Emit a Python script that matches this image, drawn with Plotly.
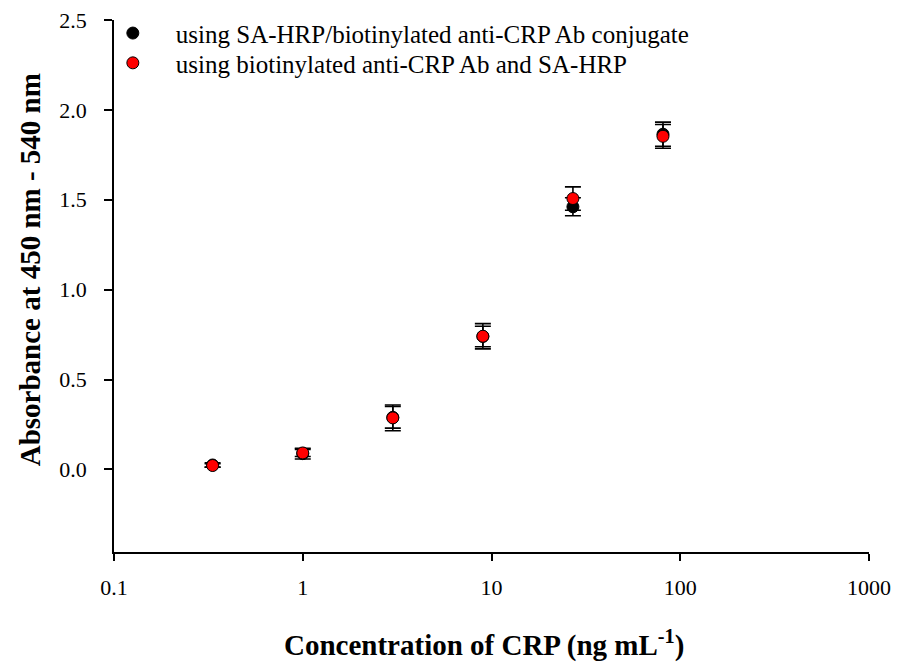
import plotly.graph_objects as go

conc = [0.333, 1, 3, 9, 27, 81]

conj_abs = [0.025, 0.088, 0.29, 0.74, 1.461, 1.865]
conj_err = [0.012, 0.03, 0.06, 0.057, 0.05, 0.067]

sep_abs = [0.022, 0.092, 0.287, 0.741, 1.507, 1.853]
sep_err = [0.01, 0.02, 0.072, 0.07, 0.065, 0.066]

names = ["using SA-HRP/biotinylated anti-CRP Ab conjugate",
         "using biotinylated anti-CRP Ab and SA-HRP"]

FONT = "Liberation Serif"

fig = go.Figure()
fig.add_trace(go.Scatter(
    x=conc, y=conj_abs, mode="markers", name=names[0], legend="legend",
    marker=dict(color="black", size=12, line=dict(color="black", width=1)),
    error_y=dict(type="data", array=conj_err, visible=True, color="black", thickness=1.6, width=8),
))
fig.add_trace(go.Scatter(
    x=conc, y=sep_abs, mode="markers", name=names[1], legend="legend2",
    marker=dict(color="#ff0000", size=12, line=dict(color="black", width=1)),
    error_y=dict(type="data", array=sep_err, visible=True, color="black", thickness=1.6, width=8),
))

leg_common = dict(xanchor="left", yanchor="middle", bgcolor="rgba(0,0,0,0)",
                  font=dict(family=FONT, size=25, color="black"), itemwidth=76)

fig.update_layout(
    width=897, height=669,
    margin=dict(l=114, r=28, t=20, b=117, autoexpand=False),
    plot_bgcolor="white", paper_bgcolor="white",
    font=dict(family=FONT, size=22, color="black"),
    showlegend=True,
    legend=dict(x=-0.032, y=0.975, **leg_common),
    legend2=dict(x=-0.032, y=0.919, **leg_common),
    xaxis=dict(type="log", range=[-1, 3], showline=True, linecolor="black", linewidth=1.5,
               ticks="outside", ticklen=7, tickwidth=1.5, tickcolor="black",
               tickvals=[0.1, 1, 10, 100, 1000], ticktext=["0.1", "1", "10", "100", "1000"],
               showgrid=False, zeroline=False, ticklabelstandoff=8, automargin=False,
               tickfont=dict(family=FONT, size=22)),
    yaxis=dict(range=[-0.459, 2.5], showline=True, linecolor="black", linewidth=1.5,
               ticks="outside", ticklen=8, tickwidth=1.5, tickcolor="black",
               tickvals=[0, 0.5, 1.0, 1.5, 2.0, 2.5],
               ticktext=["0.0", "0.5", "1.0", "1.5", "2.0", "2.5"],
               showgrid=False, zeroline=False, ticklabelstandoff=13, automargin=False,
               tickfont=dict(family=FONT, size=22)),
    annotations=[
        dict(text="<b>Concentration of CRP (ng mL<sup>-1</sup>)</b>", xref="paper", yref="paper",
             x=0.49, y=-0.172, xanchor="center", yanchor="middle", showarrow=False,
             font=dict(family=FONT, size=29)),
        dict(text="<b>Absorbance at 450 nm - 540 nm</b>", xref="paper", yref="paper",
             x=-0.111, y=0.53, xanchor="center", yanchor="middle", showarrow=False,
             textangle=-90, font=dict(family=FONT, size=29)),
    ],
)

fig.write_html("out.html")
